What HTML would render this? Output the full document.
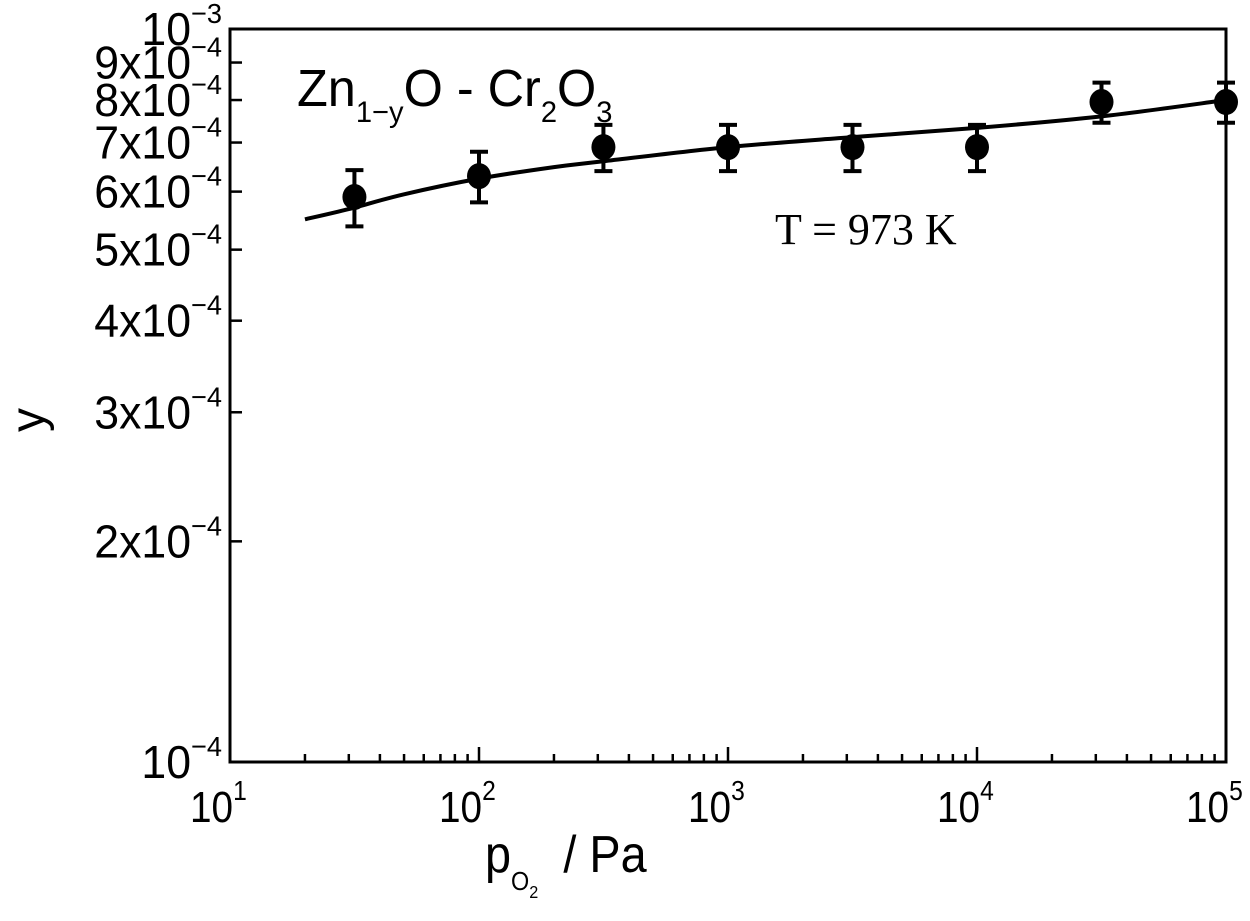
<!DOCTYPE html>
<html><head><meta charset="utf-8"><style>
body{margin:0;background:#fff}
svg text{font-family:"Liberation Sans",Arial,sans-serif;fill:#000}
</style></head><body>
<svg id="c" width="1250" height="916" xmlns="http://www.w3.org/2000/svg">
<g id="g"></g>
<text transform="translate(297,106) scale(0.97,1)" font-size="52">Zn<tspan font-size="30" dy="16">1−y</tspan><tspan dy="-16">O - Cr</tspan><tspan font-size="30" dy="16">2</tspan><tspan dy="-16">O</tspan><tspan font-size="30" dy="16">3</tspan></text>
<text x="775" y="244" font-size="44" style="font-family:'Liberation Serif',serif">T = 973 K</text>
<text transform="translate(44,420) rotate(-90)" text-anchor="middle" font-size="48">y</text>
<text transform="translate(485,872) scale(0.9,1)" font-size="52">p<tspan font-size="26" dy="18">O</tspan><tspan font-size="18" dy="8">2</tspan><tspan dy="-26" dx="28">/ Pa</tspan></text>
</svg>
<script>
const pressures=[31.6,100,316,1000,3162,10000,31623,100000];
const yValues=[5.9e-4,6.3e-4,6.9e-4,6.9e-4,6.9e-4,6.9e-4,7.95e-4,7.95e-4];
const yErr=[0.52e-4,0.5e-4,0.5e-4,0.5e-4,0.5e-4,0.5e-4,0.5e-4,0.5e-4];
const fitP=[20,30,50,100,200,316,1000,3162,10000,31623,100000];
const fitY=[5.5e-4,5.68e-4,5.95e-4,6.25e-4,6.48e-4,6.6e-4,6.9e-4,7.12e-4,7.33e-4,7.6e-4,8.0e-4];
const xTickExp=[1,2,3,4,5];
const yTickMant=[2,3,4,5,6,7,8,9];
const L=230,R=1226,T=29,B=762;
const xs=p=>L+(Math.log10(p)-1)/4*(R-L);
const ys=v=>B-(Math.log10(v)+4)*(B-T);
const g=document.getElementById('g');
const NS='http://www.w3.org/2000/svg';
function mk(t,a){const e=document.createElementNS(NS,t);for(const k in a)e.setAttribute(k,a[k]);g.appendChild(e);return e;}
let e=mk('rect',{x:L,y:T,width:R-L,height:B-T,fill:'none',stroke:'#000','stroke-width':3});


for(let d=1;d<5;d++){for(let m=1;m<10;m++){const x=xs(m*Math.pow(10,d));const len=m==1?15:8;
e=mk('line',{x1:x,x2:x,y1:B,y2:B-len,stroke:'#000','stroke-width':2.5});

}}
xTickExp.forEach(k=>{const x=xs(Math.pow(10,k));
e=mk('text',{transform:`translate(${x-40},822) scale(0.88,1)`,'font-size':44});
e.innerHTML='10<tspan font-size="28" dy="-22">'+k+'</tspan>';

});
function ylab(y,html){
e=mk('text',{transform:`translate(222,${y+16}) scale(0.97,1)`,'text-anchor':'end','font-size':46});
e.innerHTML=html;

}
yTickMant.forEach(m=>{const y=ys(m*1e-4);
e=mk('line',{x1:L,x2:L+12,y1:y,y2:y,stroke:'#000','stroke-width':2.5});


ylab(y,m+'x10<tspan font-size="28" dy="-22">−4</tspan>');});
[[1e-4,'−4'],[1e-3,'−3']].forEach(([v,s])=>{ylab(ys(v),'10<tspan font-size="28" dy="-22">'+s+'</tspan>');});
const P=fitP.map((p,i)=>[xs(p),ys(fitY[i])]);
let d='M'+P[0][0]+','+P[0][1];
for(let i=0;i<P.length-1;i++){const p0=P[Math.max(i-1,0)],p1=P[i],p2=P[i+1],p3=P[Math.min(i+2,P.length-1)];
d+='C'+(p1[0]+(p2[0]-p0[0])/6)+','+(p1[1]+(p2[1]-p0[1])/6)+' '+(p2[0]-(p3[0]-p1[0])/6)+','+(p2[1]-(p3[1]-p1[1])/6)+' '+p2[0]+','+p2[1];}
e=mk('path',{d:d,fill:'none',stroke:'#000','stroke-width':4,'stroke-linejoin':'round'});


pressures.forEach((p,i)=>{const x=xs(p),y=ys(yValues[i]),y1=ys(yValues[i]+yErr[i]),y2=ys(yValues[i]-yErr[i]);
e=mk('path',{d:`M${x},${y1}V${y2}M${x-9},${y1}H${x+9}M${x-9},${y2}H${x+9}`,stroke:'#000','stroke-width':4,fill:'none'});


e=mk('ellipse',{cx:x,cy:y,rx:12,ry:13,fill:'#000'});

});
</script>
</body></html>
